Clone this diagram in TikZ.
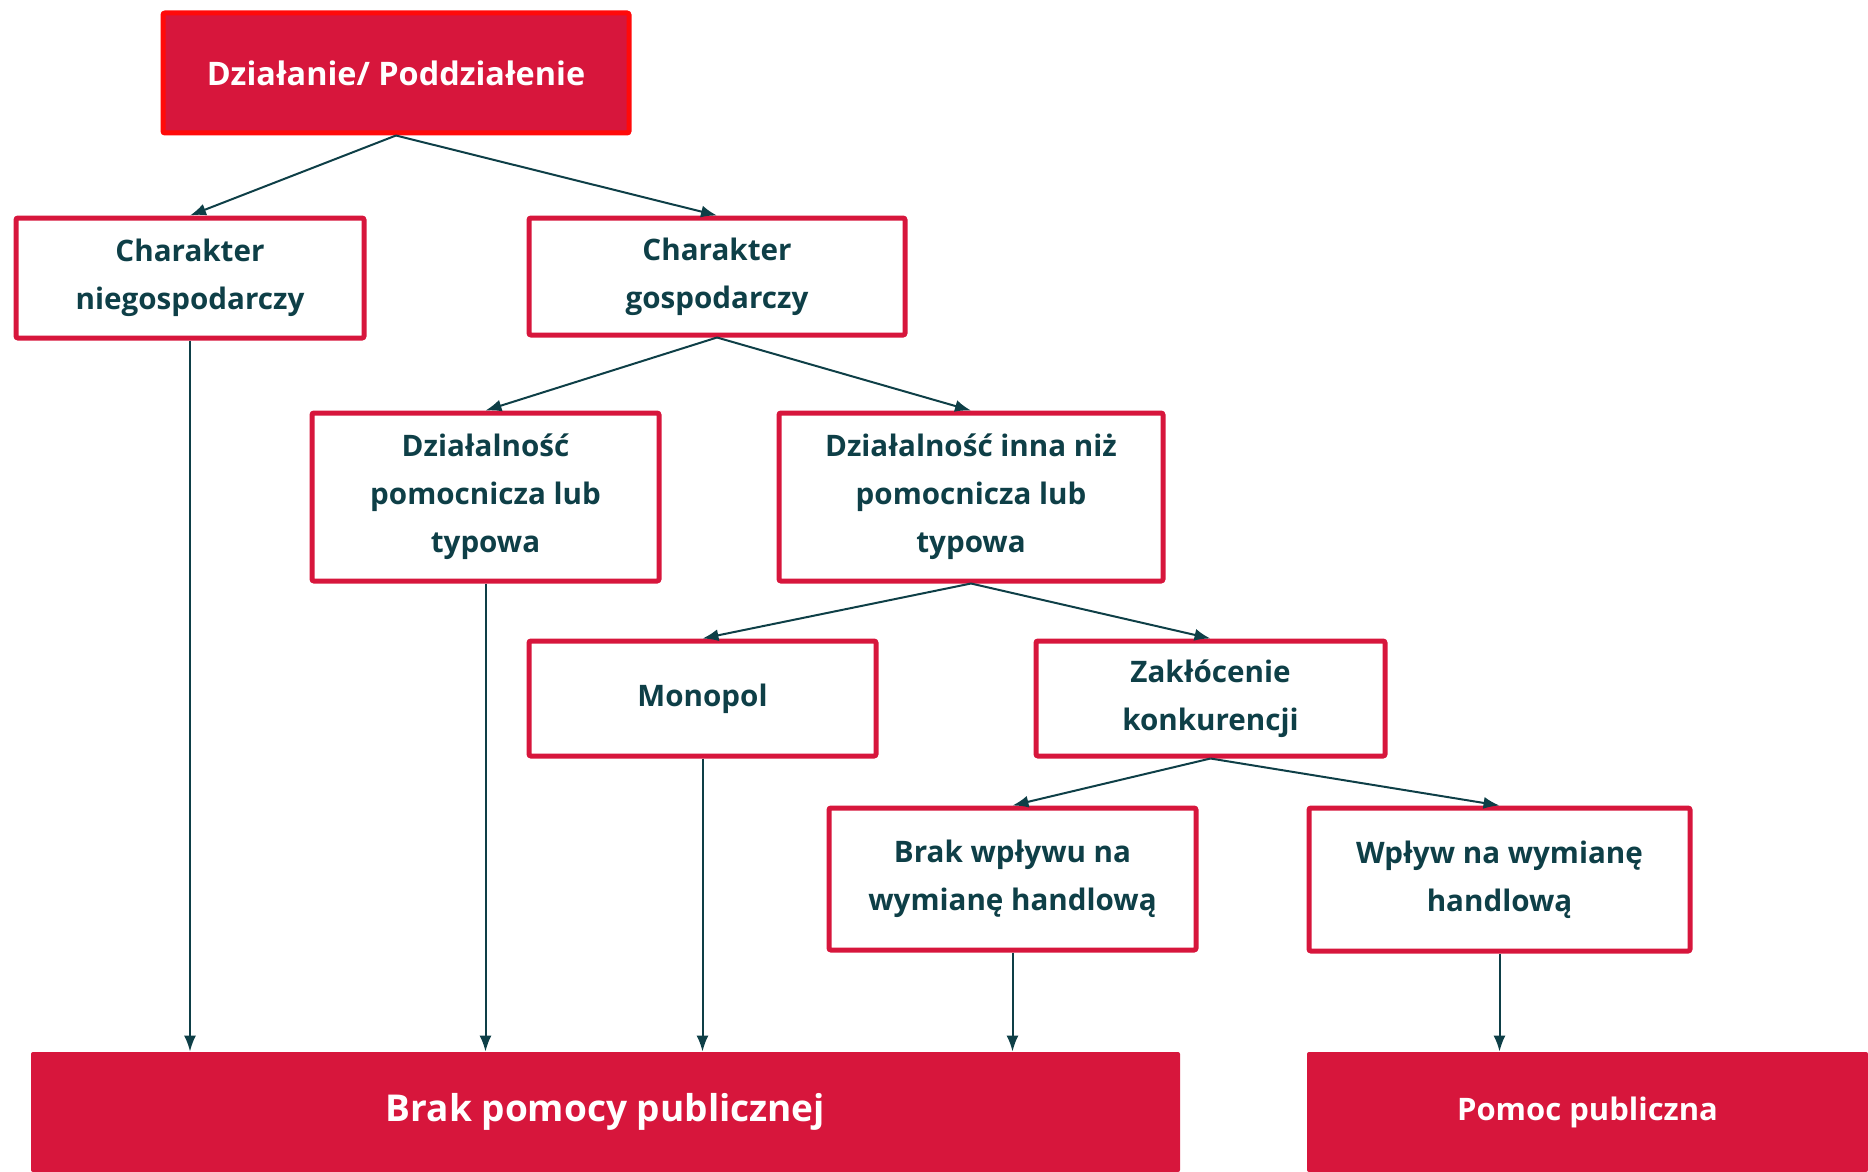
\documentclass[tikz,border=0pt]{standalone}
\usepackage{fontspec}
\setmainfont{Open Sans}
\usetikzlibrary{arrows.meta, positioning}
\definecolor{aidRed}{HTML}{D7163C}
\definecolor{aidBrightRed}{HTML}{FF0A0A}
\definecolor{aidTeal}{HTML}{0E3F47}

\tikzset{
  decbox/.style={rectangle, draw=aidRed, line width=2.5pt, fill=white, rounded corners=1pt,
    inner sep=0pt, align=center, text=aidTeal, font=\bfseries\fontsize{14.8}{24}\selectfont},
  endbox/.style={rectangle, fill=aidRed, rounded corners=1pt, inner sep=0pt,
    align=center, text=white},
  flow/.style={draw=aidTeal, line width=1pt, -{Latex[length=8pt,width=6pt]}}
}

\begin{document}
\begin{tikzpicture}[x=0.5pt, y=-0.5pt]
		\useasboundingbox (0,0) rectangle (1868,1172);
		%-------------------------------------------------------------------------------
		% decision tree
		%-------------------------------------------------------------------------------
		\node[endbox, draw=aidBrightRed, line width=2.5pt, font=\bfseries\fontsize{16.2}{24}\selectfont,
			minimum width=233pt, minimum height=60pt] (act) 
			at (396,73) {Działanie/ Poddziałenie};
		
		% level 1
		\node[decbox, minimum width=174pt, minimum height=60pt] (nonecon) 
			at (190,278) {Charakter\\niegospodarczy};
		\node[decbox, minimum width=188pt, minimum height=58.5pt] (econ) 
			at (717,276.5) {Charakter\\gospodarczy};
		
		% level 2
		\node[decbox, minimum width=173.5pt, minimum height=84pt] (typical) 
			at (485.5,497) {Działalność\\pomocnicza lub\\typowa};
		\node[decbox, minimum width=192pt, minimum height=84pt] (other) 
			at (971,497) {Działalność inna niż\\pomocnicza lub\\typowa};
		
		% level 3
		\node[decbox, minimum width=173.5pt, minimum height=57.5pt] (mono) 
			at (702.5,698.5) {Monopol};
		\node[decbox, minimum width=174.5pt, minimum height=57.5pt] (distort) 
			at (1210.5,698.5) {Zakłócenie\\konkurencji};
		
		% level 4
		\node[decbox, minimum width=183.5pt, minimum height=71pt] (notrade) 
			at (1012.5,879) {Brak wpływu na\\wymianę handlową};
		\node[decbox, minimum width=190.5pt, minimum height=71.5pt] (trade) 
			at (1499.5,879.5) {Wpływ na wymianę\\handlową};
		
		% results
		\node[endbox, minimum width=574.5pt, minimum height=60pt, font=\bfseries\fontsize{18.5}{22}\selectfont] (noaid) 
			at (605.5,1112) {Brak pomocy publicznej};
		\node[endbox, minimum width=280.5pt, minimum height=60pt, font=\bfseries\fontsize{15.5}{20}\selectfont] (aid) 
			at (1587.5,1112) {Pomoc publiczna};
		
		% branches
		\draw[flow] (act.south) -- (nonecon.north);
		\draw[flow] (act.south) -- (econ.north);
		\draw[flow] (econ.south) -- (typical.north);
		\draw[flow] (econ.south) -- (other.north);
		\draw[flow] (other.south) -- (mono.north);
		\draw[flow] (other.south) -- (distort.north);
		\draw[flow] (distort.south) -- (notrade.north);
		\draw[flow] (distort.south) -- (trade.north);
		
		% down to the results
		\draw[flow] (nonecon.south) -- (nonecon.south |- noaid.north);
		\draw[flow] (typical.south) -- (typical.south |- noaid.north);
		\draw[flow] (mono.south) -- (mono.south |- noaid.north);
		\draw[flow] (notrade.south) -- (notrade.south |- noaid.north);
		\draw[flow] (trade.south) -- (trade.south |- aid.north);
\end{tikzpicture}
\end{document}
